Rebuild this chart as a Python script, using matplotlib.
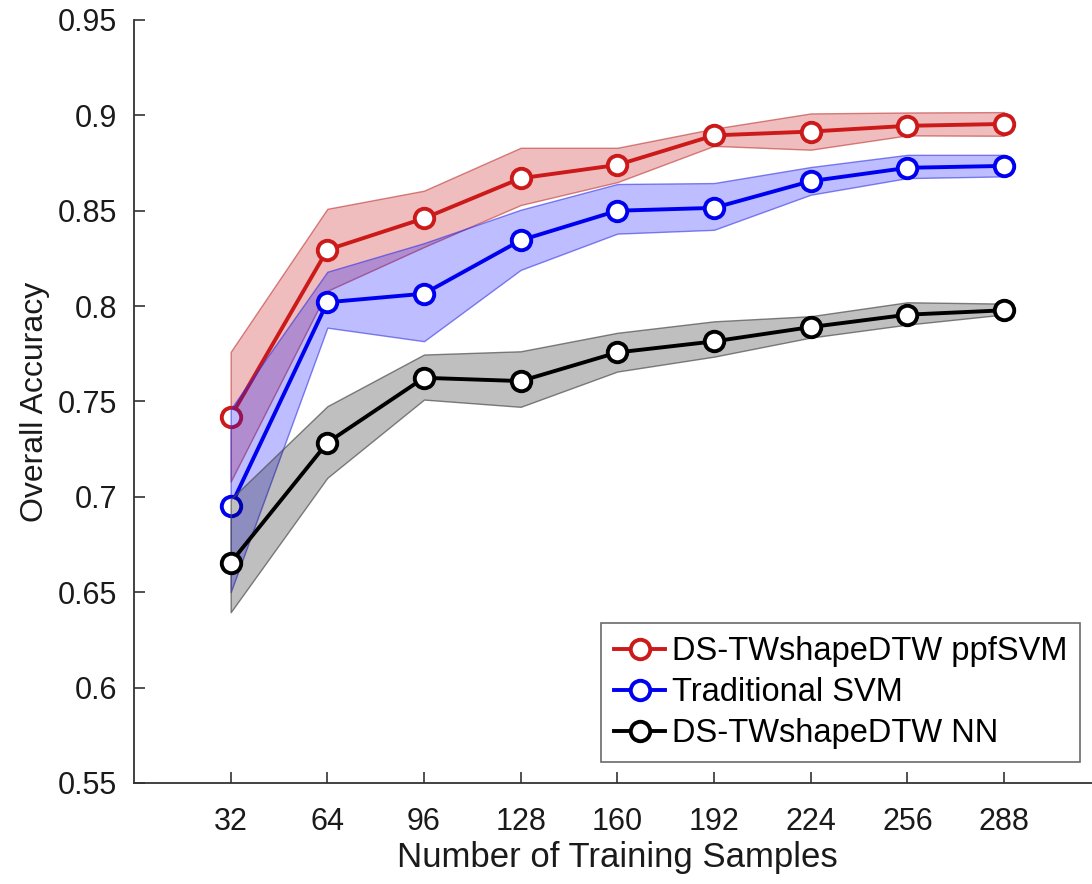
import matplotlib
matplotlib.use("Agg")
import matplotlib.pyplot as plt

plt.rcParams['font.family'] = ['Liberation Sans', 'DejaVu Sans']

samples = [32, 64, 96, 128, 160, 192, 224, 256, 288]

ppf_mean = [0.742, 0.8295, 0.846, 0.867, 0.874, 0.8895, 0.8915, 0.8945, 0.8955]
ppf_hi = [0.776, 0.851, 0.8605, 0.883, 0.883, 0.893, 0.901, 0.9015, 0.9017]
ppf_lo = [0.708, 0.808, 0.831, 0.853, 0.865, 0.884, 0.882, 0.8895, 0.8893]

svm_mean = [0.695, 0.802, 0.8065, 0.8345, 0.850, 0.8515, 0.8655, 0.8725, 0.8735]
svm_hi = [0.746, 0.818, 0.833, 0.8505, 0.864, 0.8645, 0.8729, 0.8793, 0.8793]
svm_lo = [0.650, 0.7887, 0.7816, 0.819, 0.838, 0.840, 0.8584, 0.8671, 0.868]

nn_mean = [0.6655, 0.7284, 0.7624, 0.7607, 0.7757, 0.7815, 0.789, 0.7955, 0.7978]
nn_hi = [0.6987, 0.7475, 0.7746, 0.7763, 0.786, 0.792, 0.7947, 0.802, 0.8013]
nn_lo = [0.6395, 0.710, 0.751, 0.7472, 0.7657, 0.7735, 0.7835, 0.7903, 0.7956]

labels = ['DS-TWshapeDTW ppfSVM', 'Traditional SVM', 'DS-TWshapeDTW NN']

fig = plt.figure(figsize=(10.92, 8.84), dpi=100)
ax = fig.add_axes([0.1227, 0.1143, 0.8853, 0.8631])

series = [
    (ppf_mean, ppf_lo, ppf_hi, '#CC1A1A', (0.80, 0.15, 0.15, 0.30), (0.75, 0.2, 0.2, 0.6)),
    (svm_mean, svm_lo, svm_hi, '#0000F0', (0.0, 0.0, 1.0, 0.26), (0.2, 0.2, 0.9, 0.6)),
    (nn_mean, nn_lo, nn_hi, '#000000', (0.0, 0.0, 0.0, 0.25), (0.3, 0.3, 0.3, 0.7)),
]

handles = []
z = 1
for (m, lo, hi, col, fcol, ecol), lab in zip(series, labels):
    ax.fill_between(samples, lo, hi, facecolor=fcol, edgecolor=ecol,
                    linewidth=1.0, zorder=z)
    ln, = ax.plot(samples, m, '-o', color=col, lw=2.8, ms=14,
                  mfc='white', mec=col, mew=2.8, zorder=z + 1, label=lab)
    handles.append(ln)
    z += 2

ax.set_xlim(0, 320)
ax.set_ylim(0.55, 0.95)
ax.set_xticks(samples)
ax.set_xticklabels([str(s) for s in samples])
yt = [0.55, 0.6, 0.65, 0.7, 0.75, 0.8, 0.85, 0.9, 0.95]
ax.set_yticks(yt)
ax.set_yticklabels([f"{v:g}" for v in yt])

for s in ['top', 'right']:
    ax.spines[s].set_visible(False)
for s in ['left', 'bottom']:
    ax.spines[s].set_color('#333333')
    ax.spines[s].set_linewidth(1.3)

ax.tick_params(direction='in', length=8, width=1.2, colors='#333333',
               labelcolor='#1a1a1a', labelsize=22)
ax.tick_params(axis='x', pad=17)
ax.tick_params(axis='y', pad=12)

ax.set_xlabel('Number of Training Samples', fontsize=25, color='#1a1a1a', labelpad=3)
ax.set_ylabel('Overall Accuracy', fontsize=23, color='#1a1a1a', labelpad=6)

leg = fig.legend(handles=handles, loc='lower right',
                 bbox_to_anchor=(1080 / 1092, 1 - 762 / 884),
                 fontsize=23.5, frameon=True, fancybox=False,
                 handlelength=1.55, handletextpad=0.2, borderpad=0.4,
                 labelspacing=0.3, borderaxespad=0.0)
leg.get_frame().set_edgecolor('#444444')
leg.get_frame().set_linewidth(1.2)

fig.savefig('out.png', dpi=100)
